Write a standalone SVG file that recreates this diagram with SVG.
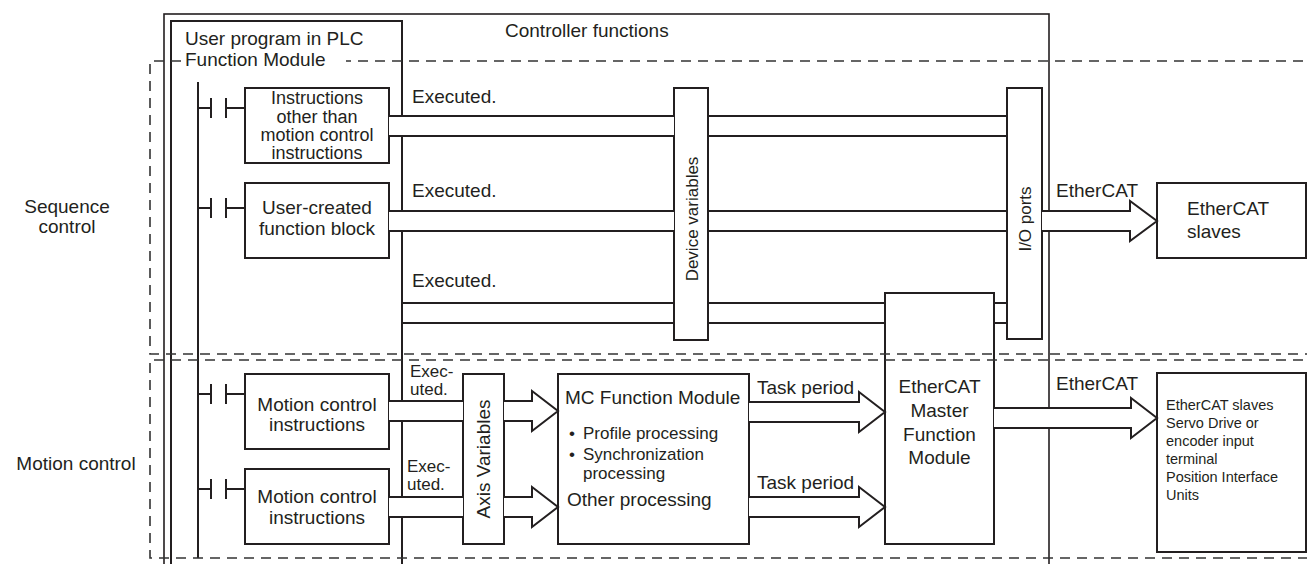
<svg xmlns="http://www.w3.org/2000/svg" width="1307" height="564" viewBox="0 0 1307 564">
<style>
 .bx{fill:#fff;stroke:#231f20;stroke-width:2}
 .ob{fill:none;stroke:#231f20;stroke-width:1.6}
 .ln{fill:none;stroke:#231f20;stroke-width:2}
 .arr{fill:#fff;stroke:#231f20;stroke-width:2;stroke-linejoin:miter}
 .mask{fill:#fff;stroke:none}
 .dash{fill:none;stroke:#333;stroke-width:1.6;stroke-dasharray:10 7}
 text{font-family:"Liberation Sans",Arial,Helvetica,sans-serif;fill:#231f20;font-size:19px}
 .s18{font-size:18px}
 .s17{font-size:17px}
 .s14{font-size:14.5px}
 .mid{text-anchor:middle}
</style>
<rect x="0" y="0" width="1307" height="564" fill="#fff"/>

<g id="controller-functions">
 <rect class="ob" x="164" y="14" width="885" height="560"/>
 <text x="505" y="37">Controller functions</text>
</g>

<g id="user-program">
 <rect class="ln" x="171" y="21" width="231" height="553"/>
 <text x="185" y="45">User program in PLC</text>
 <line class="ln" x1="198" y1="82" x2="198" y2="558"/>
</g>

<g id="contacts">
 <path class="ln" d="M198,108H211M211,98V118M226,98V118M226,108H245"/>
 <path class="ln" d="M198,208H211M211,198V218M226,198V218M226,208H245"/>
 <path class="ln" d="M198,394H211M211,384V404M226,384V404M226,394H245"/>
 <path class="ln" d="M198,489H211M211,479V499M226,479V499M226,489H245"/>
</g>

<g id="instr-other">
 <rect class="bx" x="245" y="88" width="144" height="75"/>
 <text class="mid s18" x="317" y="104">Instructions</text>
 <text class="mid s18" x="317" y="123">other than</text>
 <text class="mid s18" x="317" y="141">motion control</text>
 <text class="mid s18" x="317" y="159">instructions</text>
</g>

<g id="user-fb">
 <rect class="bx" x="245" y="183" width="144" height="75"/>
 <text class="mid" x="317" y="214">User-created</text>
 <text class="mid" x="317" y="235">function block</text>
</g>

<g id="mc-instr-1">
 <rect class="bx" x="245" y="374" width="144" height="75"/>
 <text class="mid" x="317" y="411">Motion control</text>
 <text class="mid" x="317" y="431">instructions</text>
</g>

<g id="mc-instr-2">
 <rect class="bx" x="245" y="469" width="144" height="75"/>
 <text class="mid" x="317" y="503">Motion control</text>
 <text class="mid" x="317" y="524">instructions</text>
</g>

<g id="device-variables">
 <rect class="bx" x="674" y="88" width="34" height="252"/>
 <text class="mid s17" transform="translate(698,219) rotate(-90)">Device variables</text>
</g>

<g id="io-ports">
 <rect class="bx" x="1007" y="88" width="35" height="251"/>
 <text class="mid s17" transform="translate(1031,219) rotate(-90)">I/O ports</text>
</g>

<g id="ethercat-master">
 <rect class="bx" x="885" y="293" width="109" height="251"/>
 <text class="mid" x="939.5" y="393">EtherCAT</text>
 <text class="mid" x="939.5" y="417">Master</text>
 <text class="mid" x="939.5" y="441">Function</text>
 <text class="mid" x="939.5" y="464">Module</text>
</g>

<g id="axis-variables">
 <rect class="bx" x="463" y="374" width="41" height="170"/>
 <text class="mid" transform="translate(490,459) rotate(-90)">Axis Variables</text>
</g>

<g id="mc-function-module">
 <rect class="bx" x="558" y="374" width="191" height="170"/>
 <text x="565" y="404">MC Function Module</text>
 <text class="s17" x="569" y="439">•</text>
 <text class="s17" x="583" y="439">Profile processing</text>
 <text class="s17" x="569" y="460">•</text>
 <text class="s17" x="583" y="460">Synchronization</text>
 <text class="s17" x="583" y="479">processing</text>
 <text x="567" y="506">Other processing</text>
</g>

<g id="ethercat-slaves">
 <rect class="bx" x="1157" y="183" width="149" height="75"/>
 <text x="1187" y="215">EtherCAT</text>
 <text x="1187" y="238">slaves</text>
</g>

<g id="ethercat-slaves-motion">
 <rect class="bx" x="1157" y="373" width="149" height="179"/>
 <text class="s14" x="1166" y="410">EtherCAT slaves</text>
 <text class="s14" x="1166" y="428">Servo Drive or</text>
 <text class="s14" x="1166" y="446">encoder input</text>
 <text class="s14" x="1166" y="464">terminal</text>
 <text class="s14" x="1166" y="482">Position Interface</text>
 <text class="s14" x="1166" y="500">Units</text>
</g>

<g id="connectors">
 <rect class="mask" x="389" y="116" width="285" height="20"/>
 <path class="ln" d="M389,116H674M389,136H674M708,116H1007M708,136H1007"/>
 <rect class="mask" x="389" y="211" width="285" height="20"/>
 <path class="ln" d="M389,211H674M389,231H674M708,211H1007M708,231H1007"/>
 <path class="ln" d="M402,303H674M402,323H674M708,303H885M708,323H885M994,303H1007M994,323H1007"/>
 <rect class="mask" x="389" y="401" width="74" height="20"/>
 <path class="ln" d="M389,401H463M389,421H463"/>
 <rect class="mask" x="389" y="497" width="74" height="20"/>
 <path class="ln" d="M389,497H463M389,517H463"/>
 <path class="arr" d="M504,401H532V391L558,411L532,431V421H504"/>
 <path class="arr" d="M504,497H532V487L558,507L532,527V517H504"/>
 <path class="arr" d="M749,402H859V392L885,412L859,432V422H749"/>
 <path class="arr" d="M749,497H859V487L885,507L859,527V517H749"/>
 <path class="arr" d="M1042,211H1130V201L1157,221L1130,241V231H1042"/>
 <path class="arr" d="M994,408H1131V398L1157,418L1131,438V428H994"/>
 <text x="412" y="103">Executed.</text>
 <text x="412" y="197">Executed.</text>
 <text x="412" y="287">Executed.</text>
 <text class="s17" x="410" y="377">Exec-</text>
 <text class="s17" x="410" y="395">uted.</text>
 <text class="s17" x="407" y="472">Exec-</text>
 <text class="s17" x="407" y="490">uted.</text>
 <text x="757" y="394">Task period</text>
 <text x="757" y="489">Task period</text>
 <text x="1056" y="197">EtherCAT</text>
 <text x="1056" y="390">EtherCAT</text>
</g>

<g id="regions">
 <path class="dash" d="M1320,61H150V354H1320"/>
 <path class="dash" d="M1320,360H150V558H1320"/>
 <rect class="mask" x="183" y="54" width="163" height="15"/>
 <text x="185" y="66">Function Module</text>
 <text class="mid" x="67" y="213">Sequence</text>
 <text class="mid" x="67" y="233">control</text>
 <text class="mid" x="76" y="470">Motion control</text>
</g>
</svg>
